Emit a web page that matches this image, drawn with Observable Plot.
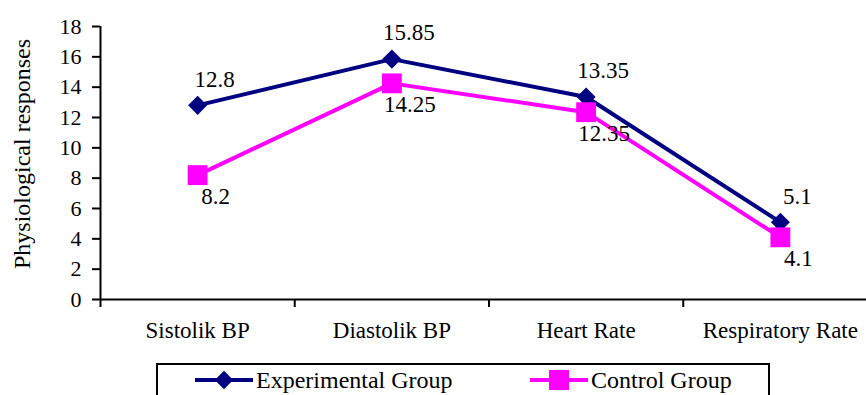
<!DOCTYPE html>
<html>
<head>
<meta charset="utf-8">
<script src="https://cdn.jsdelivr.net/npm/d3@7"></script>
<script src="https://cdn.jsdelivr.net/npm/@observablehq/plot@0.6"></script>
<style>
  html, body { margin: 0; padding: 0; background: #fff; overflow: hidden; }
  #chart { position: relative; width: 866px; height: 395px; font-family: "Liberation Serif", "Times New Roman", serif; }
  #chart svg text { font-family: "Liberation Serif", "Times New Roman", serif; }
  #legend {
    position: absolute; left: 156px; top: 363px; width: 614px; height: 44px;
    border: 2px solid #000; box-sizing: border-box; background: #fff;
    font-size: 24px; color: #000;
  }
  .item { position: absolute; top: 1px; display: flex; align-items: center; height: 28px; }
  .item svg { display: block; margin-right: 3px; }
</style>
</head>
<body>
<div id="chart"></div>
<script>
// Physiological responses per measure, experimental vs control group
const categories = ["Sistolik BP", "Diastolik BP", "Heart Rate", "Respiratory Rate"];
const experimental = [12.8, 15.85, 13.35, 5.1];
const control = [8.2, 14.25, 12.35, 4.1];
const seriesNames = ["Experimental Group", "Control Group"];
const yTicks = [0, 2, 4, 6, 8, 10, 12, 14, 16, 18];

const navy = "#000080";
const magenta = "#FF00FF";
const font = "'Liberation Serif', 'Times New Roman', serif";

const rows = [
  ...experimental.map((v, i) => ({series: seriesNames[0], i, value: v})),
  ...control.map((v, i) => ({series: seriesNames[1], i, value: v}))
];
const expRows = rows.filter(d => d.series === seriesNames[0]);
const ctlRows = rows.filter(d => d.series === seriesNames[1]);

// categories sit at the centre of each unit slot; ticks fall between them
const xPos = d => d.i + 0.5;

const plot = Plot.plot({
  width: 866,
  height: 363,
  marginLeft: 100,
  marginRight: -11,
  marginTop: 26,
  marginBottom: 64,
  style: {fontFamily: font, fontSize: "22px", color: "#000", background: "transparent"},
  x: {type: "linear", domain: [0, categories.length], axis: null},
  y: {domain: [0, 18], axis: null},
  marks: [
    Plot.axisY({ticks: yTicks, tickSize: 8, tickPadding: 11, tickFormat: d => d, label: null, strokeWidth: 2, fontSize: 22}),
    Plot.axisX({ticks: d3.range(categories.length + 1), tickSize: 8, tickFormat: () => "", label: null, strokeWidth: 2}),
    Plot.axisX({ticks: categories.map((c, i) => i + 0.5), tickSize: 0, tickPadding: 22, fontSize: 23,
                tickFormat: t => categories[Math.round(t - 0.5)], label: null}),
    Plot.ruleX([0], {stroke: "#000", strokeWidth: 2}),
    Plot.ruleY([0], {stroke: "#000", strokeWidth: 2}),
    Plot.text(["Physiological responses"], {frameAnchor: "left", textAnchor: "middle", dx: -78, dy: -9, rotate: -90, fontSize: 24}),
    Plot.line(expRows, {x: xPos, y: "value", stroke: navy, strokeWidth: 4}),
    Plot.line(ctlRows, {x: xPos, y: "value", stroke: magenta, strokeWidth: 4}),
    Plot.dot(expRows, {x: xPos, y: "value", symbol: "square", rotate: 45, r: 7.6, fill: navy, stroke: null}),
    Plot.dot(ctlRows, {x: xPos, y: "value", symbol: "square", r: 11.2, fill: magenta, stroke: null}),
    Plot.text(expRows, {x: xPos, y: "value", text: d => String(d.value), dx: 17, dy: -26, fontSize: 23, fill: "#000"}),
    Plot.text(ctlRows, {x: xPos, y: "value", text: d => String(d.value), dx: 18, dy: 21, fontSize: 23, fill: "#000"})
  ]
});

const chart = document.getElementById("chart");
chart.appendChild(plot);

// legend below the plot
const legend = document.createElement("div");
legend.id = "legend";
function swatch(color, shape) {
  const w = 58, h = 24, c = h / 2;
  const marker = shape === "diamond"
    ? `<rect x="${w / 2 - 6.5}" y="${c - 6.5}" width="13" height="13" fill="${color}" transform="rotate(45 ${w / 2} ${c})"/>`
    : `<rect x="${w / 2 - 10}" y="${c - 10}" width="20" height="20" fill="${color}"/>`;
  return `<svg width="${w}" height="${h}"><line x1="0" x2="${w}" y1="${c}" y2="${c}" stroke="${color}" stroke-width="4"/>${marker}</svg>`;
}
legend.innerHTML =
  `<div class="item" style="left:37px">${swatch(navy, "diamond")}<span>${seriesNames[0]}</span></div>` +
  `<div class="item" style="left:372px">${swatch(magenta, "square")}<span>${seriesNames[1]}</span></div>`;
chart.appendChild(legend);
</script>
</body>
</html>
